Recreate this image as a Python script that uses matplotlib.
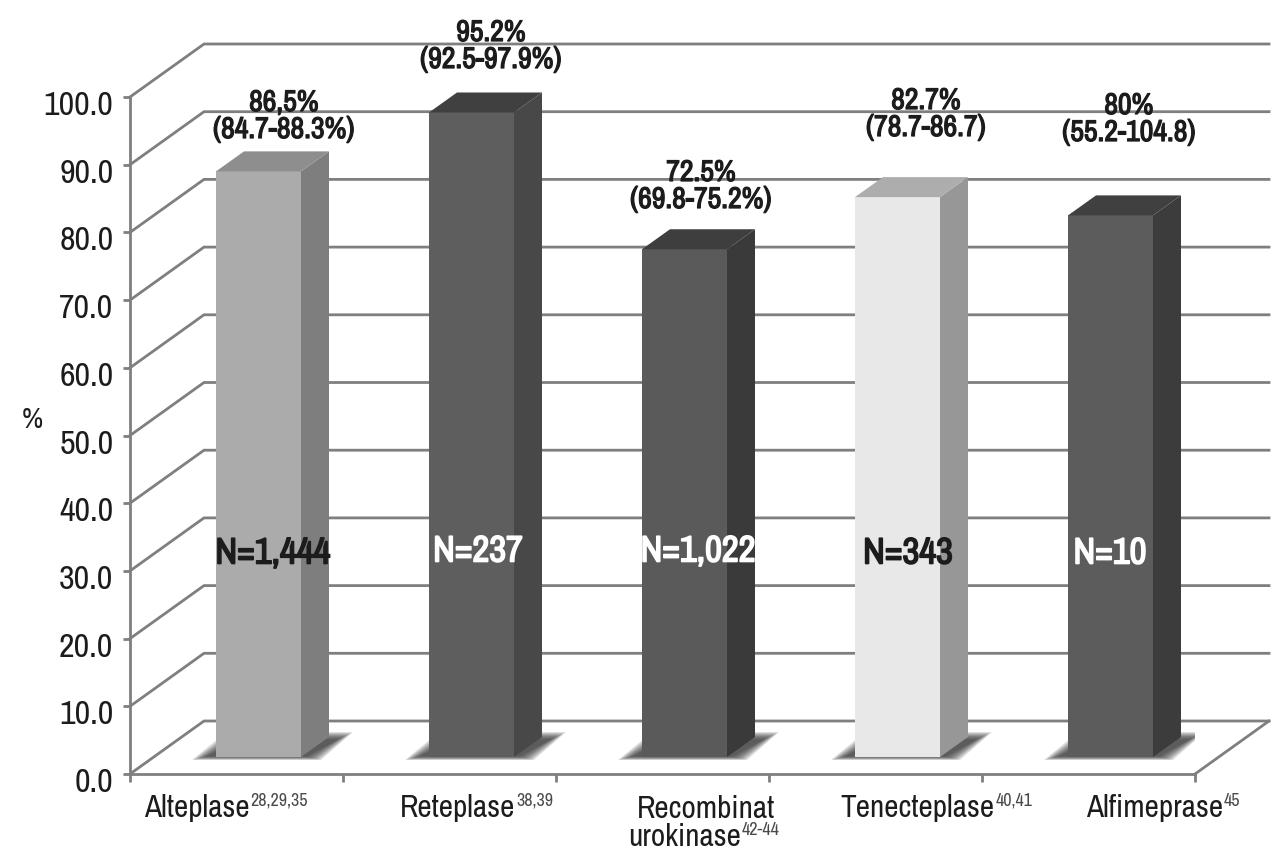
import matplotlib
matplotlib.use('Agg')
import matplotlib.pyplot as plt
import matplotlib.patheffects as pe
from matplotlib.patches import Polygon
from matplotlib.transforms import ScaledTranslation

drugs = ['Alteplase', 'Reteplase', 'Recombinat\nurokinase', 'Tenecteplase', 'Alfimeprase']
refs = ['28,29,35', '38,39', '42-44', '40,41', '45']
heights = [86.5, 95.2, 75.0, 82.7, 80.0]
value_labels = ['86,5%\n(84.7-88.3%)', '95.2%\n(92.5-97.9%)', '72.5%\n(69.8-75.2%)',
                '82.7%\n(78.7-86.7)', '80%\n(55.2-104.8)']
n_labels = ['N=1,444', 'N=237', 'N=1,022', 'N=343', 'N=10']
n_colors = ['#1c1c1c', 'white', 'white', '#1c1c1c', 'white']
y_ticks = [0, 10, 20, 30, 40, 50, 60, 70, 80, 90, 100]

front_colors = ['#ababab', '#5e5e5e', '#5a5a5a', '#e8e8e8', '#5c5c5c']
side_colors = ['#7e7e7e', '#484848', '#3a3a3a', '#979797', '#3c3c3c']
top_colors = ['#8e8e8e', '#404040', '#3e3e3e', '#adadad', '#404040']

# layout, in pixels of the 1280x859 picture
X0, X1, Y0, Y100 = 130, 1195, 774, 97
PX = 5 / (X1 - X0)
PY = 100 / (Y0 - Y100)
FONT = ['Archivo Narrow', 'Liberation Sans']
GRID = '#7f7f7f'


def to_x(px):
    return (px - X0) * PX


def to_y(py):
    return (Y0 - py) * PY


def heavy(color, width=0.9):
    # the narrow font has no bold cut here, so thicken the outline
    return [pe.withStroke(linewidth=width, foreground=color)]


fig = plt.figure(figsize=(12.8, 8.59), dpi=100)
ax = fig.add_axes([X0 / 1280, (859 - Y0) / 859, (X1 - X0) / 1280, (Y0 - Y100) / 859])
ax.set_xlim(0, 5)
ax.set_ylim(0, 100)
for s in ['top', 'right']:
    ax.spines[s].set_visible(False)
for s in ['left', 'bottom']:
    ax.spines[s].set_color(GRID)
    ax.spines[s].set_linewidth(2)
    ax.spines[s].set_zorder(6)

ax.set_yticks(y_ticks)
ax.set_yticklabels(['%.1f' % v for v in y_ticks], family=FONT, fontsize=24.5, color='#1c1c1c')
ax.set_xticks(range(6))
ax.set_xticklabels([])
ax.tick_params(axis='y', length=5, width=2, color=GRID, pad=7)
ax.tick_params(axis='x', length=6, width=2, color=GRID)

# tick labels sit a little below their ticks in the original
nudge = ScaledTranslation(0, -6 / 100, fig.dpi_scale_trans)
for lab in ax.get_yticklabels():
    lab.set_transform(lab.get_transform() + nudge)

# back wall and side wall
wall_dx = 74 * PX
wall_dy = 53 * PY
for v in y_ticks:
    ax.plot([0, wall_dx, 5 + wall_dx], [v, v + wall_dy, v + wall_dy],
            color=GRID, lw=2, clip_on=False, zorder=1, solid_joinstyle='miter')
ax.plot([5, 5 + wall_dx], [0, wall_dy], color=GRID, lw=2, clip_on=False, zorder=1)

# bars
bar_w = 85 * PX
shift_x = 22 * PX
base_y = 17 * PY
depth_x = 28 * PX
depth_y = 20 * PY
for i, h in enumerate(heights):
    x0 = i + 0.5 - bar_w / 2 + shift_x
    x1 = x0 + bar_w
    top = base_y + h

    # soft floor shadow, stacked layers
    for k in range(10):
        g = k * 1.6
        shadow = [(x0 + (-24 + g) * PX, base_y - (3 - g * 0.25) * PY),
                  (x1 + (20 - g) * PX, base_y - (3 - g * 0.25) * PY),
                  (x1 + (52 - g) * PX, base_y + (25 - g * 0.5) * PY),
                  (x0 + (10 + g) * PX, base_y + (25 - g * 0.5) * PY)]
        ax.add_patch(Polygon(shadow, closed=True, fc='#333333', ec='none', alpha=0.14, zorder=2))

    ax.add_patch(Polygon([(x0, base_y), (x1, base_y), (x1, top), (x0, top)], closed=True,
                         fc=front_colors[i], ec='none', zorder=3, clip_on=False))
    ax.add_patch(Polygon([(x1, base_y), (x1 + depth_x, base_y + depth_y),
                          (x1 + depth_x, top + depth_y), (x1, top)], closed=True,
                         fc=side_colors[i], ec='none', zorder=3, clip_on=False))
    ax.add_patch(Polygon([(x0, top), (x1, top), (x1 + depth_x, top + depth_y),
                          (x0 + depth_x, top + depth_y)], closed=True,
                         fc=top_colors[i], ec='none', zorder=3, clip_on=False))

# text placed by eye from the picture
value_pos = [(284, 116), (491, 46), (701, 186), (926, 114), (1129, 119)]
n_pos = [(273, 553), (478, 551), (698, 551), (908, 553), (1110, 553)]
label_left = [144, 400, 0, 840, 1086]

for i in range(5):
    ax.text(to_x(value_pos[i][0]), to_y(value_pos[i][1]), value_labels[i], ha='center', va='center',
            family=FONT, fontsize=21.5, color='#1c1c1c', linespacing=1.0, zorder=5, clip_on=False,
            path_effects=heavy('#1c1c1c'))
    ax.text(to_x(n_pos[i][0]), to_y(n_pos[i][1]), n_labels[i], ha='center', va='center',
            family=FONT, fontsize=26.5, color=n_colors[i], zorder=5,
            path_effects=heavy(n_colors[i], 1.2))

fig.canvas.draw()
renderer = fig.canvas.get_renderer()
for i, name in enumerate(drugs):
    if '\n' in name:
        first, second = name.split('\n')
        ax.text(to_x(706), to_y(818), first, ha='center', va='baseline', family=FONT,
                fontsize=22.5, color='#1c1c1c', clip_on=False)
        t = ax.text(to_x(628), to_y(846), second, ha='left', va='baseline', family=FONT,
                    fontsize=22.5, color='#1c1c1c', clip_on=False)
        base_py = 846
    else:
        base_py = 817
        t = ax.text(to_x(label_left[i]), to_y(base_py), name, ha='left', va='baseline', family=FONT,
                    fontsize=22.5, color='#1c1c1c', clip_on=False)
    right = t.get_window_extent(renderer).x1
    ax.text(to_x(right + 1), to_y(base_py - 11), refs[i], ha='left', va='baseline', family=FONT,
            fontsize=13, color='#4a4a4a', clip_on=False)

ax.text(to_x(32), to_y(420), '%', ha='center', va='center', family=FONT, fontsize=21,
        color='#1c1c1c', clip_on=False)

fig.savefig('out.png', dpi=100, facecolor='white')
